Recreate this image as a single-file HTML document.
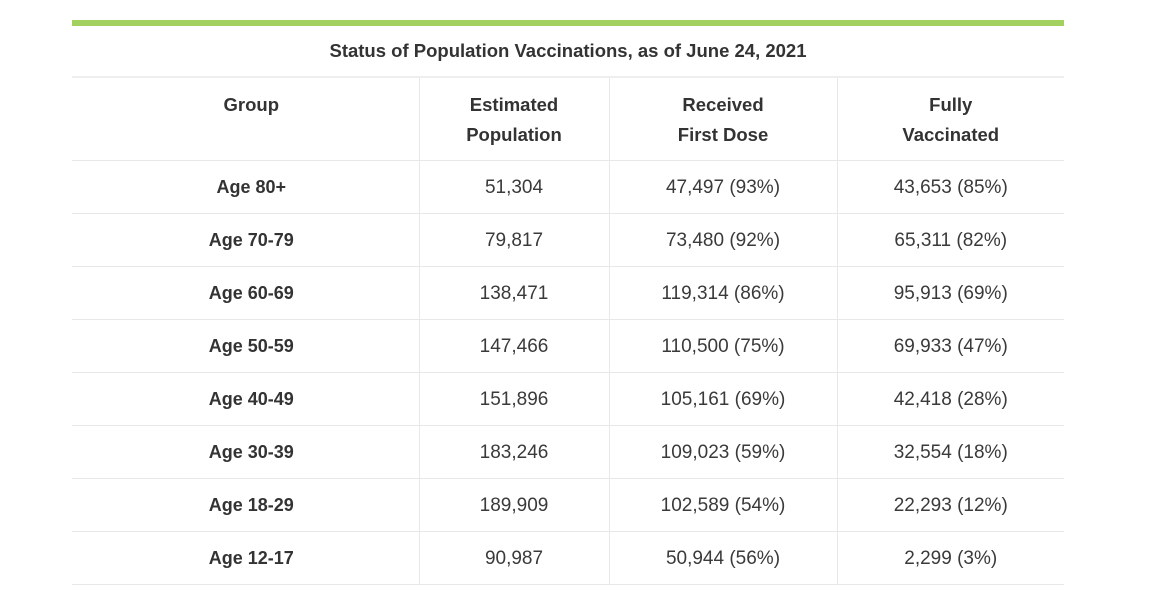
<!DOCTYPE html>
<html><head><meta charset="utf-8"><style>
body{margin:0;background:#fff;width:1155px;height:607px;overflow:hidden;font-family:"Liberation Sans",sans-serif;color:#333}
.bar{position:absolute;left:72px;top:20px;width:992px;height:6px;background:#a3d15f}
.title{position:absolute;left:72px;top:26px;width:992px;height:52px;line-height:50px;text-align:center;font-size:18.5px;font-weight:bold;color:#333;border-bottom:2px solid #eee;box-sizing:border-box}
table{position:absolute;left:72px;top:78px;width:992px;border-collapse:collapse;table-layout:fixed}
td,th{text-align:center;font-size:19px;font-weight:normal;border-bottom:1px solid #e8e8e8;padding:0;color:#3a3a3a}
td+td,th+th{border-left:1px solid #e8e8e8}
th{height:82px;vertical-align:top;padding-top:12px;line-height:30px;box-sizing:border-box;color:#333;font-weight:bold;font-size:18.5px}
td{height:53px;padding:2px 0 0 0;box-sizing:border-box}
td:first-child{color:#333;padding:2px 0 0 12px;font-weight:bold;font-size:18px}
th:first-child{padding-left:12px}
</style></head><body>
<div class="bar"></div>
<div class="title">Status of Population Vaccinations, as of June 24, 2021</div>
<table>
<colgroup><col style="width:347px"><col style="width:190px"><col style="width:228px"><col style="width:227px"></colgroup>
<tr><th>Group</th><th>Estimated<br>Population</th><th>Received<br>First Dose</th><th>Fully<br>Vaccinated</th></tr>
<tr><td>Age 80+</td><td>51,304</td><td>47,497 (93%)</td><td>43,653 (85%)</td></tr>
<tr><td>Age 70-79</td><td>79,817</td><td>73,480 (92%)</td><td>65,311 (82%)</td></tr>
<tr><td>Age 60-69</td><td>138,471</td><td>119,314 (86%)</td><td>95,913 (69%)</td></tr>
<tr><td>Age 50-59</td><td>147,466</td><td>110,500 (75%)</td><td>69,933 (47%)</td></tr>
<tr><td>Age 40-49</td><td>151,896</td><td>105,161 (69%)</td><td>42,418 (28%)</td></tr>
<tr><td>Age 30-39</td><td>183,246</td><td>109,023 (59%)</td><td>32,554 (18%)</td></tr>
<tr><td>Age 18-29</td><td>189,909</td><td>102,589 (54%)</td><td>22,293 (12%)</td></tr>
<tr><td>Age 12-17</td><td>90,987</td><td>50,944 (56%)</td><td>2,299 (3%)</td></tr>
</table>
</body></html>
